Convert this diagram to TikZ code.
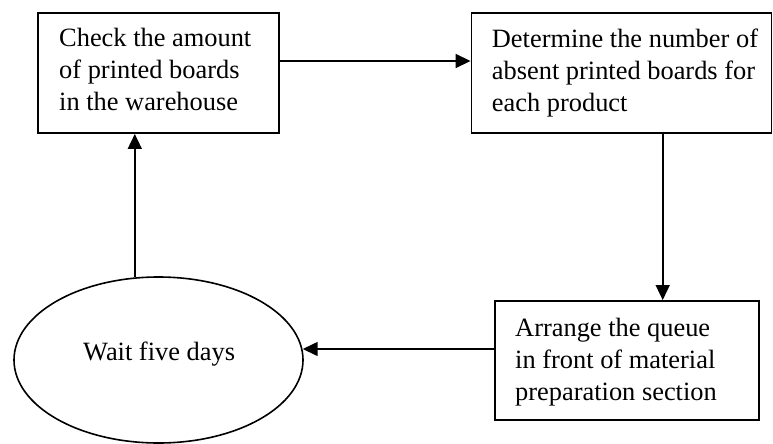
\documentclass[tikz,border=0pt]{standalone}
\usepackage{fontspec}
\setmainfont{Liberation Serif}
\usetikzlibrary{shapes.geometric,arrows.meta}
\begin{document}
\begin{tikzpicture}[x=1pt,y=-1pt,
  box/.style={draw,line width=1.9pt,inner sep=0pt},
  ell/.style={draw,ellipse,line width=1.6pt,inner sep=0pt},
  txt/.style={anchor=base west,inner sep=0pt,font=\fontsize{26.4}{31.7}\selectfont},
  arr/.style={line width=1.6pt,-{Triangle[length=15pt,width=14pt]}}]
\useasboundingbox (0,0) rectangle (773,444);
\node[box,minimum width=241pt,minimum height=120pt] (b1) at (158.5,73) {};
\node[box,minimum width=300pt,minimum height=120pt] (b2) at (621.5,73) {};
\node[box,minimum width=263.7pt,minimum height=119pt] (b3) at (626.85,360.5) {};
\node[ell,minimum width=289pt,minimum height=166pt] (e) at (158.5,360) {};
\node[txt] (t1) at (59,47) {\begin{tabular}[t]{@{}l@{}}Check the amount\\of printed boards\\in the warehouse\end{tabular}};
\node[txt] (t2) at (491.7,48) {\begin{tabular}[t]{@{}l@{}}Determine the number of\\absent printed boards for\\each product\end{tabular}};
\node[txt] (t3) at (515,336.7) {\begin{tabular}[t]{@{}l@{}}Arrange the queue\\in front of material\\preparation section\end{tabular}};
\node[txt] (t4) at (83,360) {Wait five days};
\draw[arr] ([yshift=12pt]b1.east) -- ([yshift=12pt]b2.west);
\draw[arr] ([xshift=41.2pt]b2.south) -- ([xshift=41.2pt]b2.south |- b3.north);
\draw[arr] ([yshift=11.5pt]b3.west) -- ([yshift=11.5pt]b3.west -| e.4.4);
\draw[arr] (e.106.5) -- (e.106.5 |- b1.south);
\end{tikzpicture}
\end{document}
